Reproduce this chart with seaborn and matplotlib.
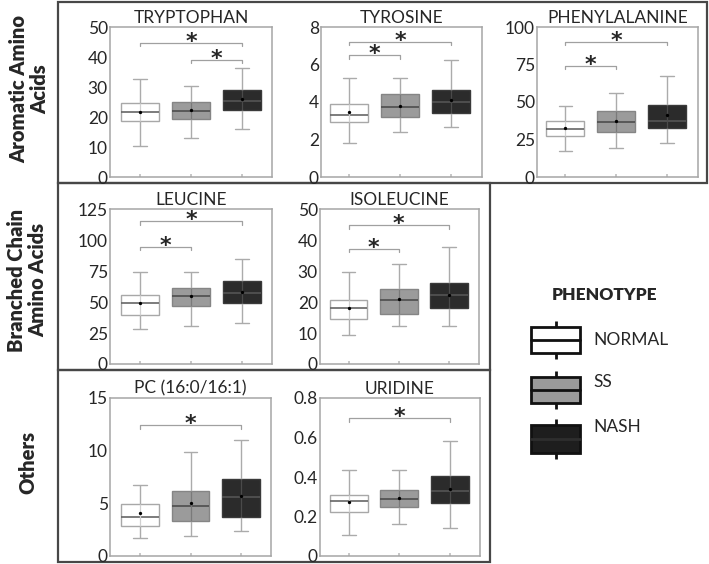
import numpy as np
import pandas as pd
import matplotlib
matplotlib.use("Agg")
import matplotlib.pyplot as plt
import seaborn as sns
from matplotlib.patches import Rectangle

# ---------------- data ----------------
groups = ["NORMAL", "SS", "NASH"]

# five-number summaries per group: [min, q1, median, q3, max]
tryptophan = [[10.2, 18.7, 21.7, 24.7, 32.6],
              [12.9, 19.2, 21.9, 24.9, 30.3],
              [16.1, 22.2, 25.5, 28.9, 36.3]]
tryptophan_mean = [21.8, 22.2, 25.9]
tryptophan_sig = [(0, 2, 44.7), (1, 2, 39.1)]

tyrosine = [[1.81, 2.95, 3.32, 3.91, 5.30],
            [2.38, 3.22, 3.73, 4.44, 5.28],
            [2.67, 3.41, 4.00, 4.66, 6.26]]
tyrosine_mean = [3.45, 3.79, 4.10]
tyrosine_sig = [(0, 2, 7.2), (0, 1, 6.49)]

phenylalanine = [[17.1, 27.2, 31.7, 37.1, 47.2],
                 [19.6, 30.3, 36.6, 43.8, 56.0],
                 [22.5, 33.0, 37.5, 48.3, 67.2]]
phenylalanine_mean = [32.6, 37.5, 41.3]
phenylalanine_sig = [(0, 2, 90.0), (0, 1, 74.0)]

leucine = [[28.3, 39.7, 49.0, 55.7, 74.5],
           [30.4, 47.0, 54.9, 61.1, 74.5],
           [33.4, 48.9, 57.0, 66.6, 84.8]]
leucine_mean = [49.0, 55.2, 57.9]
leucine_sig = [(0, 2, 115.0), (0, 1, 94.6)]

isoleucine = [[9.2, 14.4, 18.0, 20.8, 29.8],
              [12.1, 16.1, 20.7, 24.1, 32.1],
              [12.1, 18.0, 22.4, 26.0, 37.6]]
isoleucine_mean = [18.0, 21.1, 22.4]
isoleucine_sig = [(0, 2, 44.8), (0, 1, 37.1)]

pc = [[1.72, 2.87, 3.67, 4.95, 6.70],
      [1.88, 3.35, 4.76, 6.13, 9.86],
      [2.33, 3.73, 5.60, 7.30, 11.0]]
pc_mean = [4.09, 5.01, 5.71]
pc_sig = [(0, 2, 12.4)]

uridine = [[0.105, 0.222, 0.280, 0.310, 0.434],
           [0.163, 0.250, 0.287, 0.334, 0.434],
           [0.144, 0.268, 0.329, 0.405, 0.583]]
uridine_mean = [0.275, 0.296, 0.341]
uridine_sig = [(0, 2, 0.697)]

titles = ["TRYPTOPHAN", "TYROSINE", "PHENYLALANINE", "LEUCINE", "ISOLEUCINE",
          "PC (16:0/16:1)", "URIDINE"]
yticks = [[0, 10, 20, 30, 40, 50], [0, 2, 4, 6, 8], [0, 25, 50, 75, 100],
          [0, 25, 50, 75, 100, 125], [0, 10, 20, 30, 40, 50], [0, 5, 10, 15],
          [0, 0.2, 0.4, 0.6, 0.8]]
yticklabels = [["0", "10", "20", "30", "40", "50"], ["0", "2", "4", "6", "8"],
               ["0", "25", "50", "75", "100"], ["0", "25", "50", "75", "100", "125"],
               ["0", "10", "20", "30", "40", "50"], ["0", "5", "10", "15"],
               ["0", "0.2", "0.4", "0.6", "0.8"]]
group_labels = ["Aromatic Amino\nAcids", "Branched Chain\nAmino Acids", "Others"]

# ---------------- style ----------------
sns.set_theme(style="white")
plt.rcParams["font.family"] = ["Lato", "DejaVu Sans"]

W, H = 709, 564
fig = plt.figure(figsize=(W / 100, H / 100), dpi=100)

# overlay in pixel coordinates for frames, group labels and legend
ov = fig.add_axes([0, 0, 1, 1])
ov.set_xlim(0, W)
ov.set_ylim(H, 0)
ov.axis("off")
ov.patch.set_alpha(0)

frame_col = "#474747"
for (x0, y0, x1, y1) in [(58, 2, 707, 183), (58, 183, 490, 370), (58, 370, 490, 562)]:
    ov.add_patch(Rectangle((x0, y0), x1 - x0, y1 - y0, fill=False,
                           edgecolor=frame_col, lw=1.6))

for lab, (gx, gy) in zip(group_labels, [(29, 89), (27, 280), (28, 462)]):
    ov.text(gx, gy, lab, rotation=90, ha="center", va="center", fontsize=14.5,
            fontweight="heavy", linespacing=1.1)

fills = {"NORMAL": "#ffffff", "SS": "#9b9b9b", "NASH": "#2b2b2b"}
edges = {"NORMAL": "#a8a8a8", "SS": "#858585", "NASH": "#3a3a3a"}
meds = {"NORMAL": "#666666", "SS": "#4d4d4d", "NASH": "#555555"}
inner = {"NORMAL": "#d0d0d0", "SS": "#7a7a7a", "NASH": "#4a4a4a"}
whisk = "#ababab"

panels = [
    (tryptophan, tryptophan_mean, tryptophan_sig, (110, 27, 272, 177), (-0.59, 2.59), 50),
    (tyrosine, tyrosine_mean, tyrosine_sig, (321, 27, 482, 177), (-0.56, 2.61), 8),
    (phenylalanine, phenylalanine_mean, phenylalanine_sig, (537, 27, 698, 177), (-0.56, 2.61), 100),
    (leucine, leucine_mean, leucine_sig, (110, 209, 272, 364), (-0.59, 2.59), 125),
    (isoleucine, isoleucine_mean, isoleucine_sig, (320, 209, 479, 364), (-0.57, 2.6), 50),
    (pc, pc_mean, pc_sig, (110, 398, 271, 556), (-0.59, 2.59), 15),
    (uridine, uridine_mean, uridine_sig, (320, 398, 480, 556), (-0.57, 2.6), 0.8),
]

for i, (stats, means, sig, (l, t, r, b), xl, ymax) in enumerate(panels):
    ax = fig.add_axes([l / W, 1 - b / H, (r - l) / W, (b - t) / H])
    df = pd.DataFrame({"group": np.repeat(groups, 5),
                       "value": np.concatenate(stats)})
    for g in groups:
        sns.boxplot(data=df[df["group"] == g], x="group", y="value", order=groups,
                    color=fills[g], saturation=1, width=0.75, whis=np.inf,
                    linecolor=edges[g], linewidth=1.0, showfliers=False,
                    medianprops=dict(color=meds[g], linewidth=1.2),
                    whiskerprops=dict(color=whisk, linewidth=1.0),
                    capprops=dict(color=whisk, linewidth=1.0),
                    capwidths=0.27, ax=ax)
    # whisker line continuing through the box
    for j, g in enumerate(groups):
        ax.vlines(j, stats[j][1], stats[j][3], color=inner[g], lw=0.9, zorder=2.5)
    sns.stripplot(x=groups, y=means, order=groups, color="black", size=2.4,
                  jitter=False, ax=ax, zorder=6)
    # significance brackets
    tick = 0.022 * ymax
    for (a, c, y) in sig:
        ax.plot([a, a, c, c], [y - tick, y, y, y - tick], color="#a0a0a0", lw=0.9,
                zorder=3)
        ax.annotate("*", xy=((a + c) / 2, y), xytext=(0, -3.5),
                    textcoords="offset points", ha="center", va="baseline",
                    fontsize=16, fontweight="bold", family="DejaVu Sans")
    ax.set_xlim(*xl)
    ax.set_ylim(0, ymax)
    ax.set_yticks(yticks[i])
    ax.set_yticklabels(yticklabels[i])
    ax.set_xticks([0, 1, 2])
    ax.set_xticklabels(["", "", ""])
    ax.set_xlabel("")
    ax.set_ylabel("")
    ax.set_title(titles[i], fontsize=12.5, pad=3)
    ax.tick_params(axis="y", length=0, pad=1.5, labelsize=12.5)
    ax.tick_params(axis="x", length=2.5, color="#c0c0c0", direction="in",
                   bottom=True, labelbottom=False)
    for s in ax.spines.values():
        s.set_color("#a6a6a6")
        s.set_linewidth(1.1)
    ax.grid(False)

# ---------------- legend ----------------
ov.text(605, 295, "PHENOTYPE", ha="center", va="center", fontsize=12.5,
        fontweight="heavy")
leg_fill = {"NORMAL": "#ffffff", "SS": "#9a9a9a", "NASH": "#1e1e1e"}
leg_med = {"NORMAL": "#111111", "SS": "#111111", "NASH": "#2e2e2e"}
for g, (y0, y1, ytext) in zip(groups, [(327, 353, 340), (377, 403, 382), (425, 453, 427)]):
    mid = (y0 + y1) / 2
    ov.plot([555.5, 555.5], [y0 - 6, y0], color="#111111", lw=2, solid_capstyle="butt")
    ov.plot([555.5, 555.5], [y1, y1 + 6], color="#111111", lw=2, solid_capstyle="butt")
    ov.add_patch(Rectangle((531, y0), 49, y1 - y0, facecolor=leg_fill[g],
                           edgecolor="#111111", lw=2))
    ov.plot([531, 580], [mid, mid], color=leg_med[g], lw=2)
    ov.text(593, ytext, g, ha="left", va="center", fontsize=12.5)

fig.savefig("out.png", dpi=100)
